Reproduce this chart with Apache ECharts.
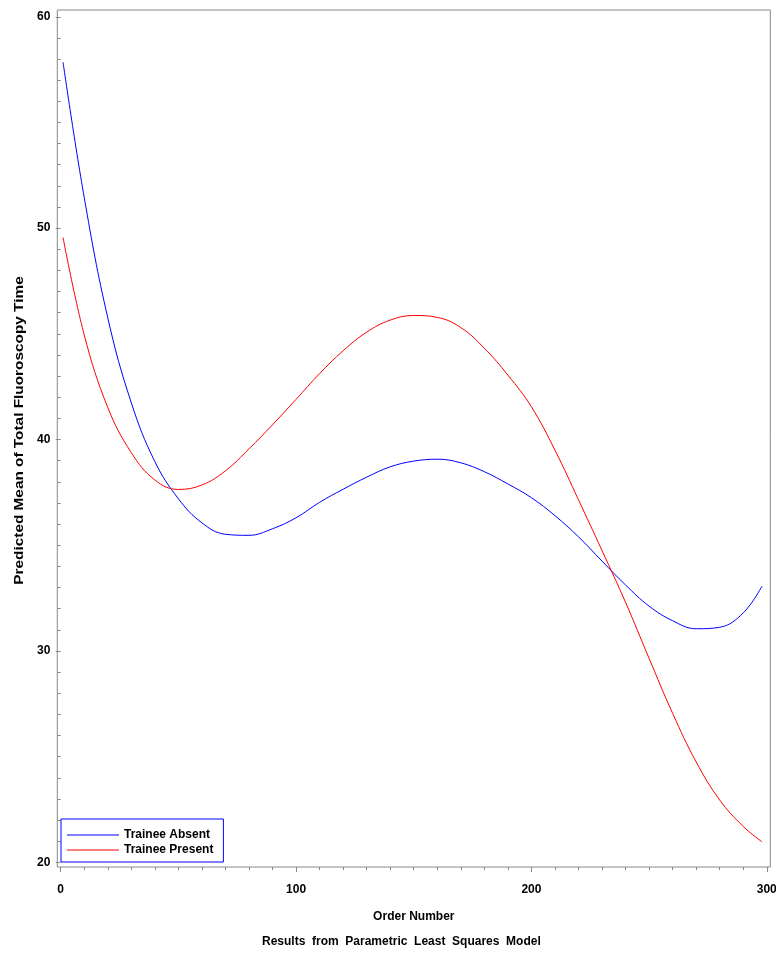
<!DOCTYPE html>
<html>
<head>
<meta charset="utf-8">
<script src="https://cdn.jsdelivr.net/npm/echarts@6/dist/echarts.min.js"></script>
<style>
html,body{margin:0;padding:0;background:#fff;}
#c{width:776px;height:953px;}
</style>
</head>
<body>
<div id="c"></div>
<script>
// Data
var orderX = [1, 10, 20, 30, 40, 50, 60, 70, 80, 90, 100, 110, 120, 130, 140, 150, 160, 170, 180, 190, 200, 210, 220, 230, 240, 250, 260, 270, 280, 290, 298];
var absentY = [57.85, 51.45, 45.76, 41.74, 38.96, 37.2, 36.06, 35.52, 35.47, 35.78, 36.3, 37.03, 37.65, 38.22, 38.71, 38.98, 39.07, 38.9, 38.48, 37.9, 37.25, 36.4, 35.4, 34.25, 33.12, 32.12, 31.43, 31.05, 31.12, 31.8, 33.07];
var presentY = [49.56, 44.95, 41.52, 39.38, 38.09, 37.64, 37.85, 38.52, 39.56, 40.7, 41.9, 43.12, 44.2, 45.08, 45.65, 45.87, 45.78, 45.3, 44.32, 43.05, 41.55, 39.5, 37.15, 34.75, 32.3, 29.65, 27.05, 24.75, 22.95, 21.7, 20.97];
var seriesNames = ['Trainee Absent', 'Trainee Present'];
var xTicks = [0, 100, 200, 300];
var yTicks = [20, 30, 40, 50, 60];
var xTitle = 'Order Number';
var yTitle = 'Predicted Mean of Total Fluoroscopy Time';
var footnote = 'Results  from  Parametric  Least  Squares  Model';

// axis extents (the frame is slightly larger than the tick range)
var X_MIN = -1.44, X_MAX = 301.5;
var Y_MIN = 19.78, Y_MAX = 60.32;

function pairs(xs, ys) { return xs.map(function (x, i) { return [x, ys[i]]; }); }
function minors(ticks, step) {
  var out = [];
  for (var i = 0; i < ticks.length - 1; i++) {
    var d = (ticks[i + 1] - ticks[i]) / step;
    for (var k = 1; k < step; k++) out.push(ticks[i] + k * d);
  }
  return out;
}

var FONT = '"Liberation Sans", Arial, Helvetica, sans-serif';
var TXT = {fontFamily: FONT, fontSize: 12, fontWeight: 'bold', color: '#000'};
var TICK = '#888888';

var chart = echarts.init(document.getElementById('c'), null, {renderer: 'canvas'});
var option = {
  animation: false,
  backgroundColor: '#ffffff',
  textStyle: {fontFamily: FONT},
  title: {
    text: footnote,
    left: 262, top: 936, padding: 0,
    textStyle: TXT
  },
  graphic: [{
    type: 'text',
    x: 19.5, y: 430.5,
    rotation: Math.PI / 2,
    scaleX: 1.28,
    silent: true,
    style: {
      text: yTitle,
      font: 'bold 12px ' + FONT,
      fill: '#000',
      align: 'center', verticalAlign: 'middle',
      textAlign: 'center', textVerticalAlign: 'middle'
    }
  }],
  legend: {
    orient: 'vertical',
    left: 61, top: 819,
    padding: [10, 10, 6, 6],
    itemGap: 3,
    itemWidth: 52, itemHeight: 1,
    icon: 'rect',
    borderColor: '#0000ff', borderWidth: 1, borderRadius: 0,
    textStyle: TXT,
    data: seriesNames
  },
  grid: {
    left: 57.3, right: 5.7, top: 10, bottom: 86,
    show: true, borderColor: '#888888', borderWidth: 1, backgroundColor: 'transparent',
    containLabel: false,
    outerBoundsMode: 'none'
  },
  xAxis: [
    {
      type: 'value', position: 'bottom', min: X_MIN, max: X_MAX,
      axisLine: {show: false},
      axisTick: {show: true, inside: false, length: 5, customValues: xTicks, lineStyle: {color: TICK}},
      splitLine: {show: false},
      axisLabel: Object.assign({margin: 17, customValues: xTicks, showMinLabel: true, showMaxLabel: true}, TXT),
      name: xTitle, nameLocation: 'middle', nameGap: 44,
      nameTextStyle: TXT
    },
    {
      type: 'value', position: 'bottom', min: X_MIN, max: X_MAX,
      axisLine: {show: false},
      axisTick: {show: true, inside: false, length: 3, customValues: minors(xTicks, 10), lineStyle: {color: TICK}},
      axisLabel: {show: false},
      splitLine: {show: false}
    }
  ],
  yAxis: [
    {
      type: 'value', position: 'left', min: Y_MIN, max: Y_MAX,
      axisLine: {show: false},
      axisTick: {show: true, inside: false, length: 5, customValues: yTicks, lineStyle: {color: TICK}},
      splitLine: {show: false},
      axisLabel: Object.assign({margin: 7, customValues: yTicks}, TXT)
    },
    {
      type: 'value', position: 'left', min: Y_MIN, max: Y_MAX,
      axisLine: {show: false},
      axisTick: {show: true, inside: false, length: 3, customValues: minors(yTicks, 10), lineStyle: {color: TICK}},
      axisLabel: {show: false},
      splitLine: {show: false}
    }
  ],
  series: [
    {
      name: seriesNames[0], type: 'line', xAxisIndex: 0, yAxisIndex: 0,
      data: pairs(orderX, absentY), smooth: 0.4, symbol: 'none', showSymbol: false,
      lineStyle: {color: '#0000ff', width: 1}, itemStyle: {color: '#0000ff'}
    },
    {
      name: seriesNames[1], type: 'line', xAxisIndex: 0, yAxisIndex: 0,
      data: pairs(orderX, presentY), smooth: 0.4, symbol: 'none', showSymbol: false,
      lineStyle: {color: '#ff0000', width: 1}, itemStyle: {color: '#ff0000'}
    }
  ]
};
chart.setOption(option);
</script>
</body>
</html>
